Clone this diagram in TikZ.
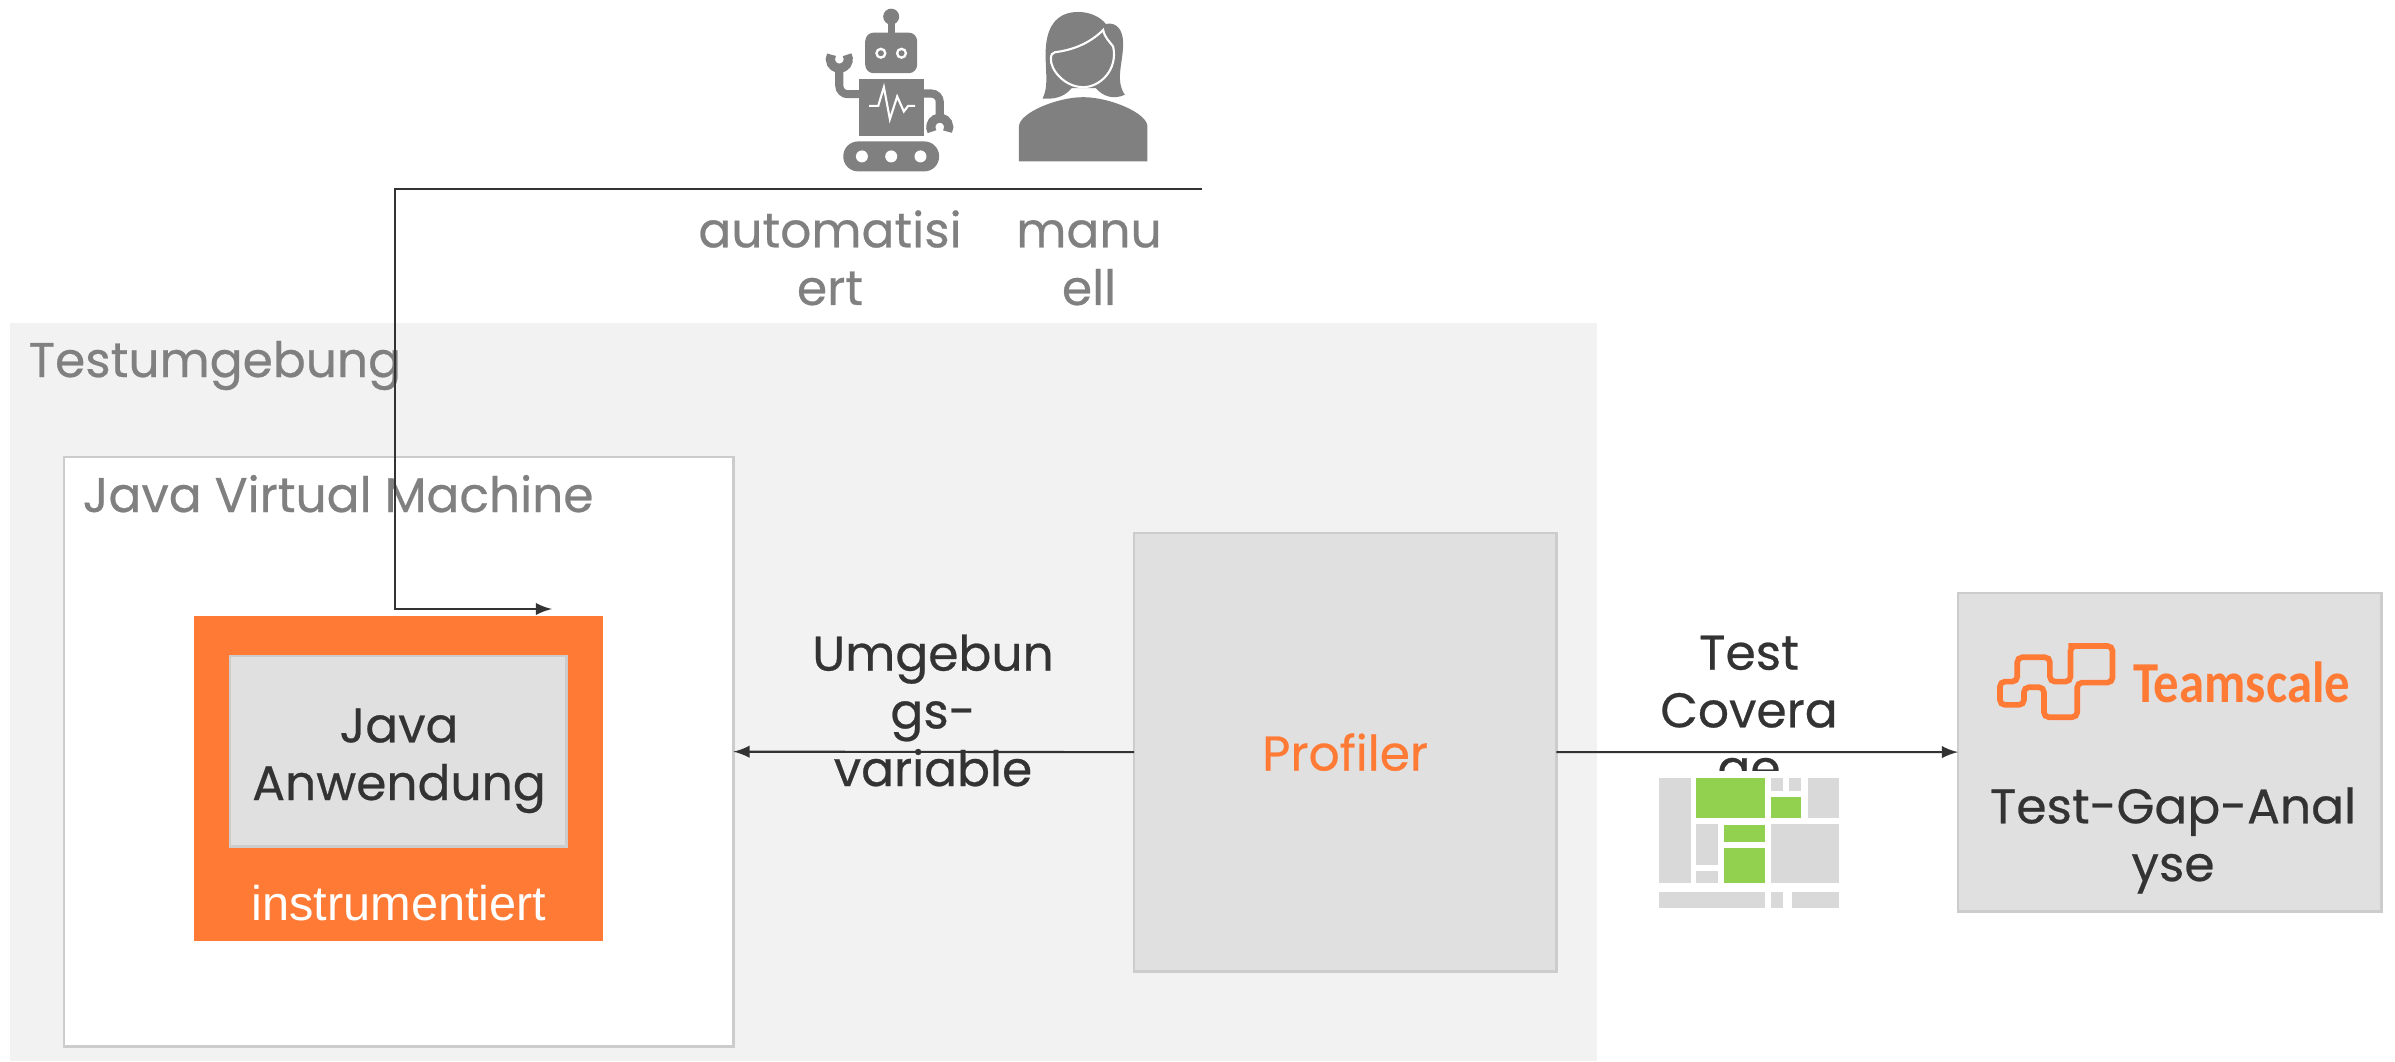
\documentclass[tikz,border=0pt]{standalone}
\usepackage{fontspec}
\usepackage{xcolor}
\usetikzlibrary{arrows}
\setmainfont{Poppins}
\newfontfamily\helv{Liberation Sans}
\newfontfamily\logofont[FakeStretch=0.875]{Carlito}
\newfontfamily\lblface[FakeBold=0.5]{Poppins}
\definecolor{envgray}{HTML}{F2F2F2}
\definecolor{boxgray}{HTML}{E0E0E0}
\definecolor{edgegray}{HTML}{CCCCCC}
\definecolor{textgray}{HTML}{808080}
\definecolor{textdark}{HTML}{333333}
\definecolor{tsorange}{HTML}{FF7A35}
\definecolor{mapgray}{HTML}{D9D9D9}
\definecolor{mapgreen}{HTML}{92D050}
\newcommand{\lblfont}{\lblface\fontsize{13.85}{16.4}\selectfont}
\tikzset{
  panel/.style={anchor=north west,inner sep=0pt,outer sep=0pt},
  graybox/.style={panel,draw=edgegray,fill=boxgray,line width=0.8pt},
  lblgray/.style={text=textgray,font=\lblfont,inner sep=0pt,align=center},
  lbldark/.style={text=textdark,font=\lblfont,inner sep=0pt,align=center},
  conn/.style={draw=textdark,line width=0.6pt,-latex},
  icon/.style={fill=textgray,draw=none},
}
\begin{document}
\begin{tikzpicture}[x=0.01cm,y=-0.01cm]
\useasboundingbox (0,0) rectangle (2395,1061);
% boxes
\node[panel,fill=envgray,minimum width=15.86cm,minimum height=7.38cm] (testenv) at (10,323) {};
\node[panel,draw=edgegray,fill=white,line width=0.8pt,minimum width=6.69cm,minimum height=5.89cm] (jvm) at (64,457) {};
\node[panel,fill=tsorange,minimum width=4.09cm,minimum height=3.25cm] (instrumented) at (194,616) {};
\node[graybox,minimum width=3.36cm,minimum height=1.90cm] (javaapp) at (230,656) {};
\node[graybox,minimum width=4.22cm,minimum height=4.38cm,text=tsorange,font=\lblfont] (profiler) at (1134,533) {Profiler};
\node[graybox,minimum width=4.23cm,minimum height=3.18cm] (gapbox) at (1958,593) {};
% texts
\node[lblgray,anchor=base west] (envlabel) at (28,377) {Testumgebung};
\node[lblgray,anchor=base west] (jvmlabel) at (82,512) {Java Virtual Machine};
\node[lbldark,anchor=base] (applabel) at (399,800) {Java\\Anwendung};
\node[anchor=base,inner sep=0pt,text=white,font=\helv\fontsize{13.85}{16}\selectfont] (instrlabel) at (399,920) {instrumentiert};
\node[lblgray,anchor=base] (autolabel) at (830,305) {automatisi\\ert};
\node[lblgray,anchor=base] (manulabel) at (1089,305) {manu\\ell};
\node[lbldark,anchor=base] (envvarlabel) at (933,786) {Umgebun\\gs-\\variable};
\node[lbldark,anchor=base] (coverlabel) at (1749,785) {Test\\Covera\\ge};
\node[lbldark,anchor=base] (gaplabel) at (2173,881) {Test-Gap-Anal\\yse};
% coverage map, its white ground cuts off the label
\node[panel,fill=white,minimum width=1.90cm,minimum height=1.40cm] (covermap) at (1653,771) {};
\begin{scope}[shift={(1640,622)},x=0.004815cm,y=-0.003333cm]
\foreach \xa/\ya/\xb/\yb in {40/470/105/785,272/470/297/508,309/470/334/508,348/470/413/590,117/608/162/730,117/748/162/785,272/608/413/785,40/810/259/860,272/810/297/860,316/812/413/860}
\fill[mapgray] (\xa,\ya) rectangle (\xb,\yb);
\foreach \xa/\ya/\xb/\yb in {117/470/259/590,272/526/334/590,175/610/259/660,175/680/259/785}
\fill[mapgreen] (\xa,\ya) rectangle (\xb,\yb);
\end{scope}
% logo
\begin{scope}[shift={(1980,630)},x=0.003333cm,y=-0.003333cm]
\draw[draw=tsorange,line width=1.6pt,rounded corners=1.4pt] (280,48) -- (398,48) -- (398,158) -- (292,158) -- (292,262) -- (192,262) -- (192,172) -- (132,172) -- (132,225) -- (60,225) -- (60,155) -- (112,155) -- (112,82) -- (210,82) -- (210,155) -- (272,155) -- (272,48) -- cycle;
\node[anchor=base west,inner sep=0pt,text=tsorange,font=\logofont\bfseries\fontsize{16.5}{18}\selectfont] (logotext) at (458,218) {Teamscale};
\end{scope}
% robot
\begin{scope}[shift={(800,0)},x=0.003333cm,y=-0.003333cm]
\fill[icon] (274,50) circle[radius=24];
\fill[icon] (263,60) rectangle (285,110);
\fill[icon,rounded corners=2.4pt] (196,98) rectangle (352,220);
\foreach \x in {243,305} {
\fill[white] (\x,160) circle[radius=17];
\fill[icon] (\x,160) circle[radius=9];
}
\fill[icon] (178,238) rectangle (372,408);
\draw[white,line width=0.6pt] (208,318) -- (235,318) -- (252,262) -- (270,358) -- (292,290) -- (312,335) -- (325,318) -- (346,318);
\draw[textgray,line width=2.3pt,rounded corners=2.4pt] (180,283) -- (118,283) -- (118,205);
\draw[textgray,line width=2.3pt,rounded corners=2.4pt] (370,281) -- (420,281) -- (420,350);
\draw[textgray,line width=2.6pt] (141.4,164.5) arc[start angle=-30,end angle=210,radius=27];
\draw[textgray,line width=2.6pt] (396.6,395.5) arc[start angle=150,end angle=390,radius=27];
\fill[icon,rounded corners=4.2pt] (130,425) rectangle (418,515);
\foreach \x in {186,274,362}
\fill[white] (\x,470) circle[radius=18];
\end{scope}
% person
\begin{scope}[shift={(1000,0)},x=0.003333cm,y=-0.003333cm]
\fill[icon] (57,485) -- (57,380) .. controls (57,340) and (170,292) .. (250,292) .. controls (330,292) and (443,340) .. (443,380) -- (443,485) -- cycle;
\fill[icon] (128,296) .. controls (145,260) and (138,230) .. (137,170) .. controls (135,80) and (170,36) .. (235,36) .. controls (270,36) and (300,50) .. (318,72) .. controls (350,65) and (370,90) .. (370,130) .. controls (370,190) and (345,240) .. (375,285) .. controls (340,300) and (310,290) .. (288,265) -- (215,265) .. controls (190,295) and (160,298) .. (128,296) -- cycle;
\draw[fill=textgray,draw=white,line width=0.6pt] (165,157) .. controls (220,150) and (270,130) .. (310,90) .. controls (315,115) and (330,125) .. (340,140) .. controls (355,210) and (300,262) .. (250,262) .. controls (195,262) and (150,210) .. (153,175) .. controls (153,165) and (158,158) .. (165,157) -- cycle;
\end{scope}
% connectors
\coordinate (testerend) at (1202,189);
\coordinate (testerbend) at (395,189);
\coordinate (appbend) at (395,609);
\coordinate (appentry) at (552,609);
\draw[conn] (testerend) -- (testerbend) -- (appbend) -- (appentry);
\draw[conn] (profiler.west) -- (jvm.east);
\draw[conn] (profiler.east) -- (gapbox.west);
\end{tikzpicture}
\end{document}
